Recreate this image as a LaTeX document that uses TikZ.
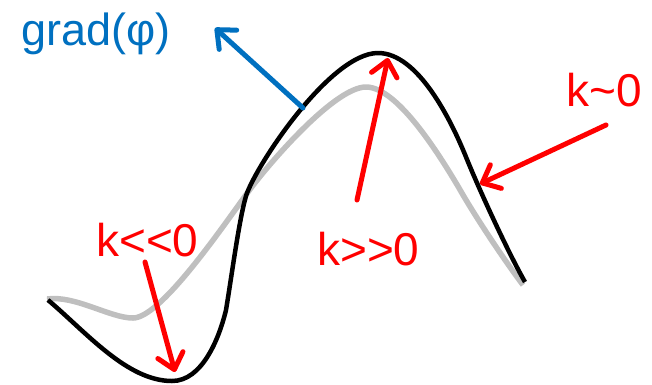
\documentclass[tikz,border=0pt]{standalone}
\usepackage{fontspec}
\setmainfont{Liberation Sans}
\usetikzlibrary{arrows.meta}
\definecolor{gradblue}{HTML}{0070C0}
\definecolor{kred}{HTML}{FF0000}
\definecolor{curvegray}{HTML}{BFBFBF}

\begin{document}
\begin{tikzpicture}[x=1pt, y=-1pt,
  lbl/.style={font=\fontsize{46}{50}\selectfont, text=kred, inner sep=0pt, anchor=base west},
  arr/.style={-{Straight Barb[round, length=15pt, width=26pt]}, line width=5pt, line cap=round},
]
  \useasboundingbox (0,0) rectangle (652,384);

  %% curves
  \draw[curvegray, line width=5.5pt] (47,299)
    .. controls (75,295) and (110,318) .. (133,318)
    .. controls (160,318) and (219,232) .. (248,192)
    .. controls (270,162) and (335,87) .. (366,87)
    .. controls (396,87) and (436,149) .. (459,188)
    .. controls (476,218) and (505,261) .. (523,285);
  \draw[black, line width=4.5pt] (48,300)
    .. controls (86,332) and (127,381) .. (172,381)
    .. controls (202,381) and (219,339) .. (226,310)
    .. controls (232,274) and (239,220) .. (246,196)
    .. controls (255,167) and (330,53) .. (378,53)
    .. controls (418,53) and (451,120) .. (466,157)
    .. controls (481,194) and (510,256) .. (525,282);

  %% labels
  \node[lbl, text=gradblue, font=\fontsize{45}{50}\selectfont] (grad) at (21,45) {grad(φ)};
  \node[lbl] (kneg) at (96,256) {k<\kern0pt<0};
  \node[lbl] (kpos) at (317,265) {k>\kern0pt>0};
  \node[lbl] (kzero) at (566,106) {k\char`\~0};

  %% arrow ends
  \coordinate (gradtail) at (303,108);
  \coordinate (gradtip)  at (215,28);
  \coordinate (negtail)  at (145,262);
  \coordinate (negtip)   at (175,372);
  \coordinate (postail)  at (357,200);
  \coordinate (postip)   at (388,58);
  \coordinate (zerotail) at (606,125);
  \coordinate (zerotip)  at (480,184);

  \draw[arr, gradblue] (gradtail) -- (gradtip);
  \draw[arr, kred] (negtail) -- (negtip);
  \draw[arr, kred] (postail) -- (postip);
  \draw[arr, kred] (zerotail) -- (zerotip);
\end{tikzpicture}
\end{document}
